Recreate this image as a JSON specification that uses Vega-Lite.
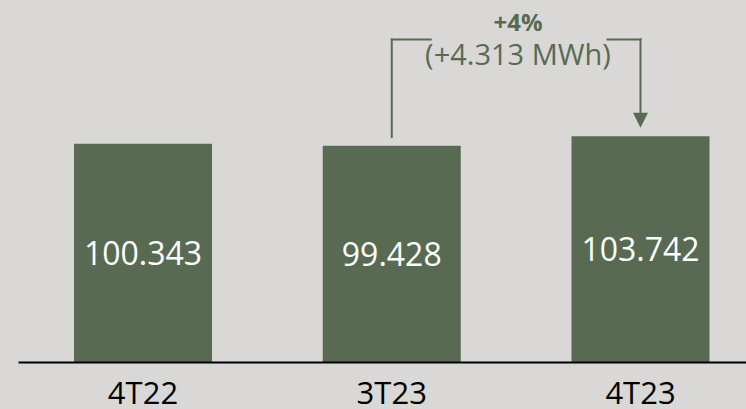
{
  "$schema": "https://vega.github.io/schema/vega-lite/v6.json",
  "width": 728,
  "height": 362,
  "autosize": {"type": "none"},
  "padding": {"left": 18, "top": 0, "right": 0, "bottom": 47},
  "background": "#d9d8d6",
  "config": {"view": {"stroke": null}, "font": "Open Sans"},
  "datasets": {
    "bars": [
      {"period": "4T22", "value": 100.343, "label": "100.343"},
      {"period": "3T23", "value": 99.428, "label": "99.428"},
      {"period": "4T23", "value": 103.742, "label": "103.742"}
    ],
    "change": [
      {"from": "3T23", "to": "4T23", "pct": "+4%", "delta": "(+4.313 MWh)"}
    ]
  },
  "resolve": {"scale": {"y": "independent"}},
  "layer": [
    {
      "layer": [
        {
          "data": {"name": "bars"},
          "mark": {"type": "bar", "color": "#586b52"},
          "encoding": {
            "x": {
              "field": "period", "type": "nominal", "sort": null,
              "scale": {"domain": ["4T22", "3T23", "4T23"], "paddingInner": 0.4452, "paddingOuter": 0.1859, "align": 0.6054},
              "axis": {
                "title": null, "ticks": false, "tickSize": 0, "labelAngle": 0,
                "labelFont": "Open Sans", "labelFontSize": 31, "labelColor": "#000000",
                "labelPadding": 17, "domainColor": "#000000", "domainWidth": 2, "zindex": 2
              }
            },
            "y": {
              "field": "value", "type": "quantitative",
              "scale": {"domain": [0, 166.4], "nice": false, "zero": true},
              "axis": null
            }
          }
        },
        {
          "data": {"name": "change"},
          "mark": {"type": "rule", "color": "#586b52", "strokeWidth": 2, "strokeCap": "square"},
          "encoding": {
            "x": {"field": "from", "type": "nominal"},
            "y": {"datum": 103.4},
            "y2": {"datum": 148.3}
          }
        },
        {
          "data": {"name": "change"},
          "mark": {"type": "rule", "color": "#586b52", "strokeWidth": 2, "strokeCap": "square", "x2Offset": 39},
          "encoding": {
            "x": {"field": "from", "type": "nominal"},
            "x2": {"field": "from"},
            "y": {"datum": 148.3}
          }
        },
        {
          "data": {"name": "change"},
          "mark": {"type": "rule", "color": "#586b52", "strokeWidth": 2, "strokeCap": "square", "xOffset": -33},
          "encoding": {
            "x": {"field": "to", "type": "nominal"},
            "x2": {"field": "to"},
            "y": {"datum": 148.3}
          }
        },
        {
          "data": {"name": "change"},
          "mark": {"type": "rule", "color": "#586b52", "strokeWidth": 2, "strokeCap": "square"},
          "encoding": {
            "x": {"field": "to", "type": "nominal"},
            "y": {"datum": 148.3},
            "y2": {"datum": 113.1}
          }
        },
        {
          "data": {"name": "change"},
          "mark": {"type": "point", "shape": "M-1,-1L1,-1L0,1Z", "size": 225, "filled": true, "opacity": 1, "color": "#586b52", "strokeWidth": 0},
          "encoding": {
            "x": {"field": "to", "type": "nominal"},
            "y": {"datum": 111.1}
          }
        },
        {
          "data": {"name": "change"},
          "mark": {"type": "text", "font": "Open Sans", "fontSize": 24, "fontWeight": "bold", "color": "#586b52", "baseline": "alphabetic", "align": "center", "xOffset": -122.5},
          "encoding": {
            "x": {"field": "to", "type": "nominal"},
            "y": {"datum": 152.3},
            "text": {"field": "pct"}
          }
        },
        {
          "data": {"name": "change"},
          "mark": {"type": "text", "font": "Open Sans", "fontSize": 29, "color": "#586b52", "baseline": "alphabetic", "align": "center", "xOffset": -122.5},
          "encoding": {
            "x": {"field": "to", "type": "nominal"},
            "y": {"datum": 136.5},
            "text": {"field": "delta"}
          }
        }
      ]
    },
    {
      "data": {"name": "bars"},
      "mark": {"type": "text", "font": "Open Sans", "fontSize": 32, "color": "#ffffff", "baseline": "middle", "align": "center", "dy": 2},
      "encoding": {
        "x": {"field": "period", "type": "nominal", "sort": null},
        "y": {
          "field": "value", "type": "quantitative",
          "scale": {"domain": [0, 332.8], "nice": false, "zero": true},
          "axis": null
        },
        "text": {"field": "label"}
      }
    }
  ]
}
